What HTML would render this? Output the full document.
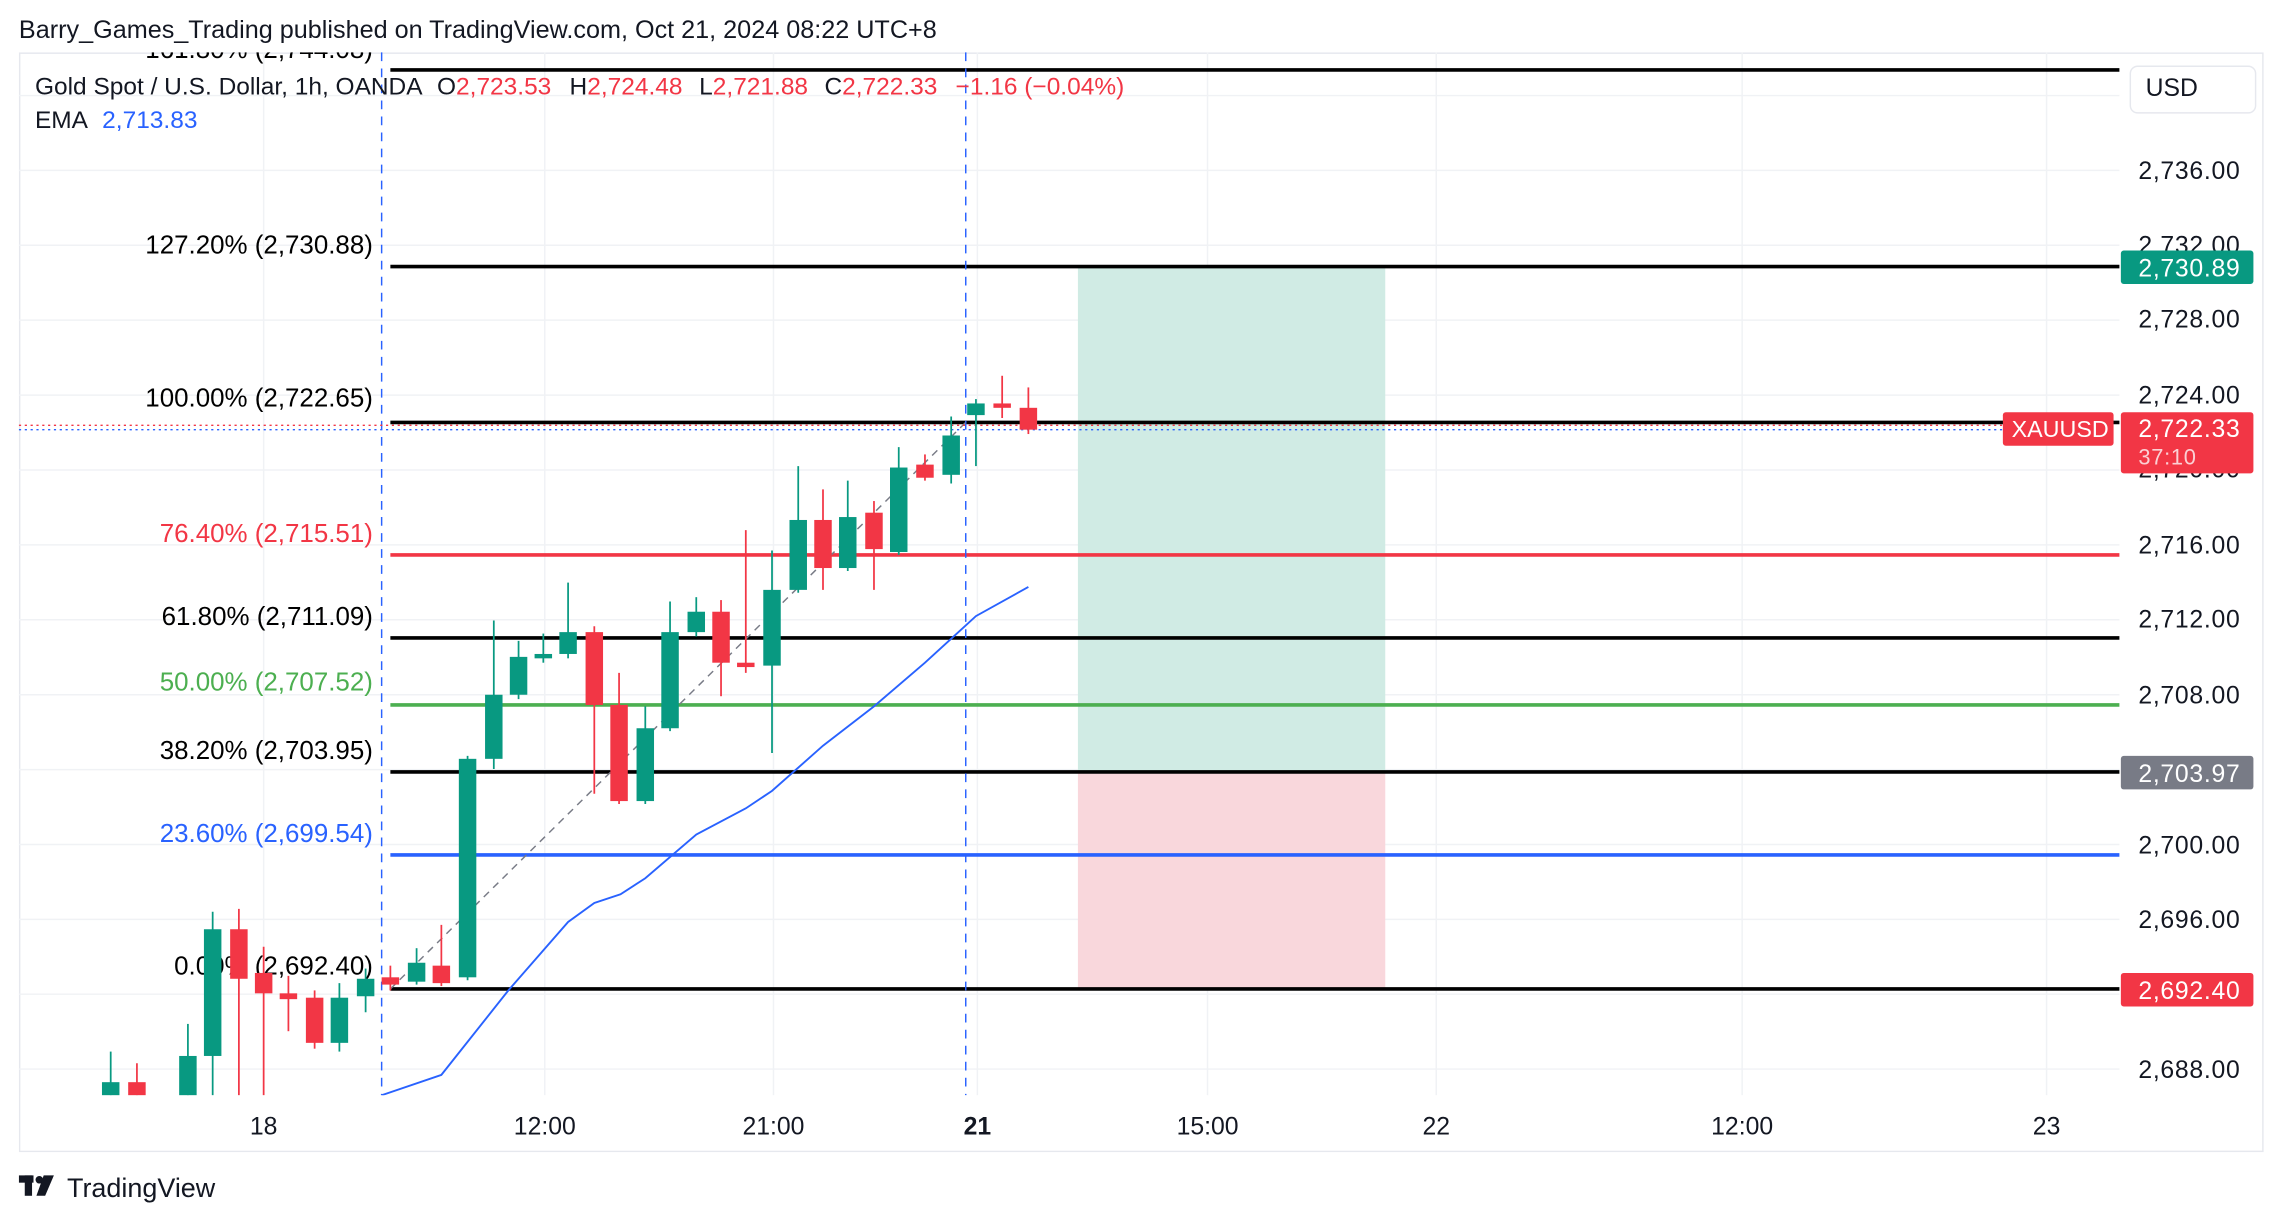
<!DOCTYPE html>
<html><head><meta charset="utf-8"><style>html,body{margin:0;padding:0;background:#fff}svg{display:block}text{font-family:"Liberation Sans",sans-serif}</style></head><body>
<svg width="2284" height="1222" viewBox="0 0 1568 839" preserveAspectRatio="none" xmlns="http://www.w3.org/2000/svg">
<defs><clipPath id="pl"><rect x="13" y="36" width="1442" height="716"/></clipPath></defs>
<rect width="1568" height="839" fill="#fff"/>
<text x="13" y="26" font-size="17.3" fill="#131722">Barry_Games_Trading published on TradingView.com, Oct 21, 2024 08:22 UTC+8</text>
<rect x="13.5" y="36.5" width="1540" height="754" fill="none" stroke="#e6e8ee"/>
<g stroke="#f0f2f5" stroke-width="1">
<line x1="13" x2="1455" y1="65.6" y2="65.6"/><line x1="13" x2="1455" y1="117" y2="117"/><line x1="13" x2="1455" y1="168.4" y2="168.4"/><line x1="13" x2="1455" y1="219.8" y2="219.8"/><line x1="13" x2="1455" y1="271.3" y2="271.3"/><line x1="13" x2="1455" y1="322.7" y2="322.7"/><line x1="13" x2="1455" y1="374.1" y2="374.1"/><line x1="13" x2="1455" y1="425.5" y2="425.5"/><line x1="13" x2="1455" y1="477" y2="477"/><line x1="13" x2="1455" y1="528.4" y2="528.4"/><line x1="13" x2="1455" y1="579.8" y2="579.8"/><line x1="13" x2="1455" y1="631.2" y2="631.2"/><line x1="13" x2="1455" y1="682.6" y2="682.6"/><line x1="13" x2="1455" y1="734" y2="734"/>
<line x1="181" x2="181" y1="36" y2="752"/><line x1="374" x2="374" y1="36" y2="752"/><line x1="531" x2="531" y1="36" y2="752"/><line x1="671" x2="671" y1="36" y2="752"/><line x1="829" x2="829" y1="36" y2="752"/><line x1="986" x2="986" y1="36" y2="752"/><line x1="1196" x2="1196" y1="36" y2="752"/><line x1="1405" x2="1405" y1="36" y2="752"/>
</g>
<rect x="740" y="183" width="211" height="347" fill="#d0ebe4"/>
<rect x="740" y="530" width="211" height="149" fill="#f9d7dc"/>
<g stroke-width="2.5">
<line x1="268" x2="1455" y1="48" y2="48" stroke="#000"/>
<line x1="268" x2="1455" y1="183" y2="183" stroke="#000"/>
<line x1="268" x2="1455" y1="290" y2="290" stroke="#000"/>
<line x1="268" x2="1455" y1="381" y2="381" stroke="#f23645"/>
<line x1="268" x2="1455" y1="438" y2="438" stroke="#000"/>
<line x1="268" x2="1455" y1="484" y2="484" stroke="#4caf50"/>
<line x1="268" x2="1455" y1="530" y2="530" stroke="#000"/>
<line x1="268" x2="1455" y1="587" y2="587" stroke="#2962ff"/>
<line x1="268" x2="1455" y1="679" y2="679" stroke="#000"/>
</g>
<line x1="262" x2="262" y1="36" y2="752" stroke="#2962ff" stroke-dasharray="6,5"/>
<line x1="663" x2="663" y1="36" y2="752" stroke="#2962ff" stroke-dasharray="6,5"/>
<line x1="268" y1="679" x2="663" y2="290" stroke="#787b86" stroke-dasharray="5,4"/>
<line x1="13" x2="1375" y1="292" y2="292" stroke="#f23645" stroke-dasharray="1.5,2.5"/>
<line x1="13" x2="1375" y1="295" y2="295" stroke="#2962ff" stroke-dasharray="1.5,2.5"/>
<g font-size="17.8" text-anchor="end" clip-path="url(#pl)">
<text x="256" y="40" fill="#000">161.80% (2,744.08)</text>
<text x="256" y="174" fill="#000">127.20% (2,730.88)</text>
<text x="256" y="279" fill="#000">100.00% (2,722.65)</text>
<text x="256" y="372" fill="#f23645">76.40% (2,715.51)</text>
<text x="256" y="429" fill="#000">61.80% (2,711.09)</text>
<text x="256" y="474" fill="#4caf50">50.00% (2,707.52)</text>
<text x="256" y="521" fill="#000">38.20% (2,703.95)</text>
<text x="256" y="578" fill="#2962ff">23.60% (2,699.54)</text>
<text x="256" y="669" fill="#000">0.00% (2,692.40)</text>
</g>
<polyline fill="none" stroke="#2962ff" stroke-width="1.3" points="262,752 303,738 349,680 390,633 408,620 426,614 443,603 478,573 512,555 530,543 565,512 600,485 635,455 670,423 706,403"/>
<g stroke-width="1.2">
<line x1="76" x2="76" y1="722" y2="752" stroke="#089981"/><rect x="70" y="743" width="12" height="9" fill="#089981"/>
<line x1="94" x2="94" y1="730" y2="752" stroke="#f23645"/><rect x="88" y="743" width="12" height="9" fill="#f23645"/>
<line x1="129" x2="129" y1="703" y2="752" stroke="#089981"/><rect x="123" y="725" width="12" height="27" fill="#089981"/>
<line x1="146" x2="146" y1="626" y2="752" stroke="#089981"/><rect x="140" y="638" width="12" height="87" fill="#089981"/>
<line x1="164" x2="164" y1="624" y2="752" stroke="#f23645"/><rect x="158" y="638" width="12" height="34" fill="#f23645"/>
<line x1="181" x2="181" y1="650" y2="752" stroke="#f23645"/><rect x="175" y="668" width="12" height="14" fill="#f23645"/>
<line x1="198" x2="198" y1="670" y2="708" stroke="#f23645"/><rect x="192" y="682" width="12" height="4" fill="#f23645"/>
<line x1="216" x2="216" y1="680" y2="720" stroke="#f23645"/><rect x="210" y="685" width="12" height="31" fill="#f23645"/>
<line x1="233" x2="233" y1="675" y2="722" stroke="#089981"/><rect x="227" y="685" width="12" height="31" fill="#089981"/>
<line x1="251" x2="251" y1="665" y2="695" stroke="#089981"/><rect x="245" y="672" width="12" height="12" fill="#089981"/>
<line x1="268" x2="268" y1="663" y2="680" stroke="#f23645"/><rect x="262" y="671" width="12" height="5" fill="#f23645"/>
<line x1="286" x2="286" y1="651" y2="676" stroke="#089981"/><rect x="280" y="661" width="12" height="13" fill="#089981"/>
<line x1="303" x2="303" y1="635" y2="677" stroke="#f23645"/><rect x="297" y="663" width="12" height="12" fill="#f23645"/>
<line x1="321" x2="321" y1="519" y2="673" stroke="#089981"/><rect x="315" y="521" width="12" height="150" fill="#089981"/>
<line x1="339" x2="339" y1="426" y2="528" stroke="#089981"/><rect x="333" y="477" width="12" height="44" fill="#089981"/>
<line x1="356" x2="356" y1="440" y2="480" stroke="#089981"/><rect x="350" y="451" width="12" height="26" fill="#089981"/>
<line x1="373" x2="373" y1="435" y2="455" stroke="#089981"/><rect x="367" y="449" width="12" height="3" fill="#089981"/>
<line x1="390" x2="390" y1="400" y2="452" stroke="#089981"/><rect x="384" y="434" width="12" height="15" fill="#089981"/>
<line x1="408" x2="408" y1="430" y2="545" stroke="#f23645"/><rect x="402" y="434" width="12" height="50" fill="#f23645"/>
<line x1="425" x2="425" y1="462" y2="552" stroke="#f23645"/><rect x="419" y="484" width="12" height="66" fill="#f23645"/>
<line x1="443" x2="443" y1="485" y2="552" stroke="#089981"/><rect x="437" y="500" width="12" height="50" fill="#089981"/>
<line x1="460" x2="460" y1="413" y2="502" stroke="#089981"/><rect x="454" y="434" width="12" height="66" fill="#089981"/>
<line x1="478" x2="478" y1="410" y2="437" stroke="#089981"/><rect x="472" y="420" width="12" height="14" fill="#089981"/>
<line x1="495" x2="495" y1="412" y2="478" stroke="#f23645"/><rect x="489" y="420" width="12" height="35" fill="#f23645"/>
<line x1="512" x2="512" y1="364" y2="462" stroke="#f23645"/><rect x="506" y="455" width="12" height="3" fill="#f23645"/>
<line x1="530" x2="530" y1="378" y2="517" stroke="#089981"/><rect x="524" y="405" width="12" height="52" fill="#089981"/>
<line x1="548" x2="548" y1="320" y2="407" stroke="#089981"/><rect x="542" y="357" width="12" height="48" fill="#089981"/>
<line x1="565" x2="565" y1="336" y2="405" stroke="#f23645"/><rect x="559" y="357" width="12" height="33" fill="#f23645"/>
<line x1="582" x2="582" y1="330" y2="392" stroke="#089981"/><rect x="576" y="355" width="12" height="35" fill="#089981"/>
<line x1="600" x2="600" y1="344" y2="405" stroke="#f23645"/><rect x="594" y="352" width="12" height="25" fill="#f23645"/>
<line x1="617" x2="617" y1="307" y2="381" stroke="#089981"/><rect x="611" y="321" width="12" height="58" fill="#089981"/>
<line x1="635" x2="635" y1="312" y2="330" stroke="#f23645"/><rect x="629" y="319" width="12" height="9" fill="#f23645"/>
<line x1="653" x2="653" y1="286" y2="332" stroke="#089981"/><rect x="647" y="299" width="12" height="27" fill="#089981"/>
<line x1="670" x2="670" y1="274" y2="320" stroke="#089981"/><rect x="664" y="277" width="12" height="8" fill="#089981"/>
<line x1="688" x2="688" y1="258" y2="287" stroke="#f23645"/><rect x="682" y="277" width="12" height="3" fill="#f23645"/>
<line x1="706" x2="706" y1="266" y2="298" stroke="#f23645"/><rect x="700" y="280" width="12" height="15" fill="#f23645"/>
</g>
<rect x="14" y="752" width="1441" height="38" fill="#fff"/>
<g font-size="16.8" fill="#131722">
<text x="24" y="65">Gold Spot / U.S. Dollar, 1h, OANDA</text>
<text x="300" y="65">O<tspan fill="#f23645">2,723.53</tspan></text>
<text x="391" y="65">H<tspan fill="#f23645">2,724.48</tspan></text>
<text x="480" y="65">L<tspan fill="#f23645">2,721.88</tspan></text>
<text x="566" y="65">C<tspan fill="#f23645">2,722.33</tspan></text>
<text x="656" y="65" fill="#f23645">−1.16 (−0.04%)</text>
<text x="24" y="88">EMA <tspan dx="6" fill="#2962ff">2,713.83</tspan></text>
</g>
<rect x="1462.5" y="45.5" width="86" height="32" rx="5" fill="#fff" stroke="#e6e8ee"/>
<text x="1473" y="66" font-size="17" fill="#131722">USD</text>
<g font-size="17" fill="#131722" letter-spacing="0.5">
<text x="1468" y="123">2,736.00</text><text x="1468" y="174">2,732.00</text><text x="1468" y="225">2,728.00</text><text x="1468" y="277">2,724.00</text><text x="1468" y="328">2,720.00</text><text x="1468" y="380">2,716.00</text><text x="1468" y="431">2,712.00</text><text x="1468" y="483">2,708.00</text><text x="1468" y="586">2,700.00</text><text x="1468" y="637">2,696.00</text><text x="1468" y="740">2,688.00</text>
</g>
<g font-size="17" fill="#fff" letter-spacing="0.5">
<rect x="1456" y="172" width="91" height="23" rx="2" fill="#089981"/><text x="1468" y="190">2,730.89</text>
<rect x="1456" y="519" width="91" height="23" rx="2" fill="#787b86"/><text x="1468" y="537">2,703.97</text>
<rect x="1456" y="668" width="91" height="23" rx="2" fill="#f23645"/><text x="1468" y="686">2,692.40</text>
<rect x="1456" y="283" width="91" height="42" rx="2" fill="#f23645"/><text x="1468" y="300">2,722.33</text><text x="1468" y="319" font-size="15" fill="#fbd0d4">37:10</text>
</g>
<rect x="1375" y="283" width="76" height="23" rx="2" fill="#f23645"/><text x="1381" y="300" font-size="16" fill="#fff">XAUUSD</text>
<g font-size="17" fill="#131722" text-anchor="middle">
<text x="181" y="779">18</text><text x="374" y="779">12:00</text><text x="531" y="779">21:00</text><text x="671" y="779" font-weight="bold">21</text><text x="829" y="779">15:00</text><text x="986" y="779">22</text><text x="1196" y="779">12:00</text><text x="1405" y="779">23</text>
</g>
<g fill="#131722"><rect x="13" y="807" width="10" height="5"/><rect x="17" y="807" width="5" height="14"/><circle cx="27" cy="810" r="2.6"/><polygon points="30,807 37,807 31,821 25,821"/></g>
<text x="46" y="822" font-size="18.5" fill="#131722">TradingView</text>
</svg>
</body></html>
